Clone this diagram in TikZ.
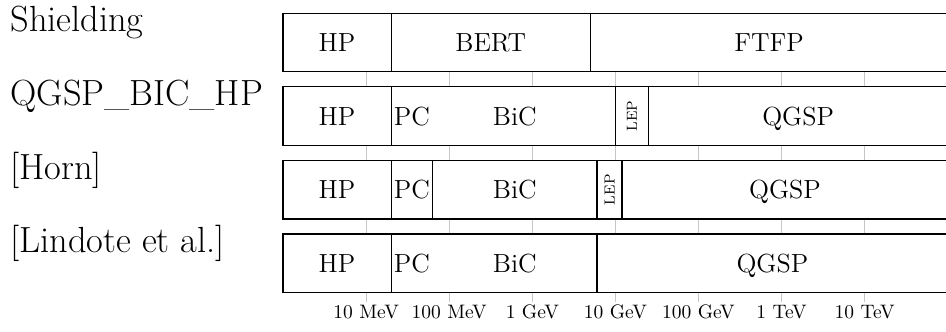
\documentclass[tikz,border=0pt]{standalone}
\usepackage{tikz}
\usetikzlibrary{positioning}
\begin{document}
\begin{tikzpicture}[
		x=1.605cm, y=1cm,
		band/.style={draw, line width=0.7pt},
		sep/.style={line width=0.7pt},
		grid/.style={gray!45, thin},
		lbl/.style={font=\Large, text height=9.8pt, text depth=0pt},
		lep/.style={font=\footnotesize, rotate=90},
		listname/.style={font=\fontsize{20}{24}\selectfont, anchor=base west, inner sep=0pt},
		tick/.style={font=\fontsize{10.7}{13}\selectfont, anchor=base}
		]
		\useasboundingbox (-3.406,0) rectangle (7.978,-6.411);
		% Energieachse: 1 MeV ... 100 TeV, eine Dekade pro Einheit
		\foreach \e/\txt in {1/10 MeV, 2/100 MeV, 3/1 GeV, 4/10 GeV, 5/100 GeV, 6/1 TeV, 7/10 TeV} {
			\foreach \yb in {-1.387, -2.8075, -4.228}
				\draw[grid] (\e,\yb) -- ++(0,-0.2905);
			\draw[grid] (\e,-5.6485) -- (\e,-5.826);
			\node[tick] (t\e) at (\e,-6.147) {\txt};
		}
		
		% Rahmen der Zeilen und Namen links
		\foreach \name [count=\i] in {Shielding, QGSP\_BIC\_HP, {[Horn]}, {[Lindote et al.]}} {
			\pgfmathsetmacro\yt{-0.257-1.4205*(\i-1)}
			\draw[band] (0,\yt) rectangle (8,\yt-1.13);
			\node[listname] (n\i) at (-3.285,\yt-0.36) {\name};
		}
		
		% Zeile 1: Shielding
		\foreach \x in {1.301, 3.699} \draw[sep] (\x,-0.257) -- ++(0,-1.13);
		\node[lbl] (hp1) at (0.650,-0.822) {HP};
		\node[lbl] (bert1) at (2.500,-0.822) {BERT};
		\node[lbl] (ftfp1) at (5.850,-0.822) {FTFP};
		
		% Zeile 2: QGSP_BIC_HP
		\foreach \x in {1.301, 4, 4.398} \draw[sep] (\x,-1.6775) -- ++(0,-1.13);
		\node[lbl] (hp2) at (0.650,-2.2425) {HP};
		\node[lbl] (pc2) at (1.550,-2.2425) {PC};
		\node[lbl] (bic2) at (2.789,-2.2425) {BiC};
		\node[lep] (lep2) at (4.199,-2.2425) {LEP};
		\node[lbl] (qgsp2) at (6.199,-2.2425) {QGSP};
		
		% Zeile 3: Horn
		\foreach \x in {1.301, 1.799, 3.778, 4.079} \draw[sep] (\x,-3.098) -- ++(0,-1.13);
		\node[lbl] (hp3) at (0.650,-3.663) {HP};
		\node[lbl] (pc3) at (1.550,-3.663) {PC};
		\node[lbl] (bic3) at (2.789,-3.663) {BiC};
		\node[lep] (lep3) at (3.929,-3.663) {LEP};
		\node[lbl] (qgsp3) at (6.040,-3.663) {QGSP};
		
		% Zeile 4: Lindote et al.
		\foreach \x in {1.301, 3.778} \draw[sep] (\x,-4.5185) -- ++(0,-1.13);
		\node[lbl] (hp4) at (0.650,-5.0835) {HP};
		\node[lbl] (pc4) at (1.550,-5.0835) {PC};
		\node[lbl] (bic4) at (2.789,-5.0835) {BiC};
		\node[lbl] (qgsp4) at (5.889,-5.0835) {QGSP};
	\end{tikzpicture}
\end{document}
